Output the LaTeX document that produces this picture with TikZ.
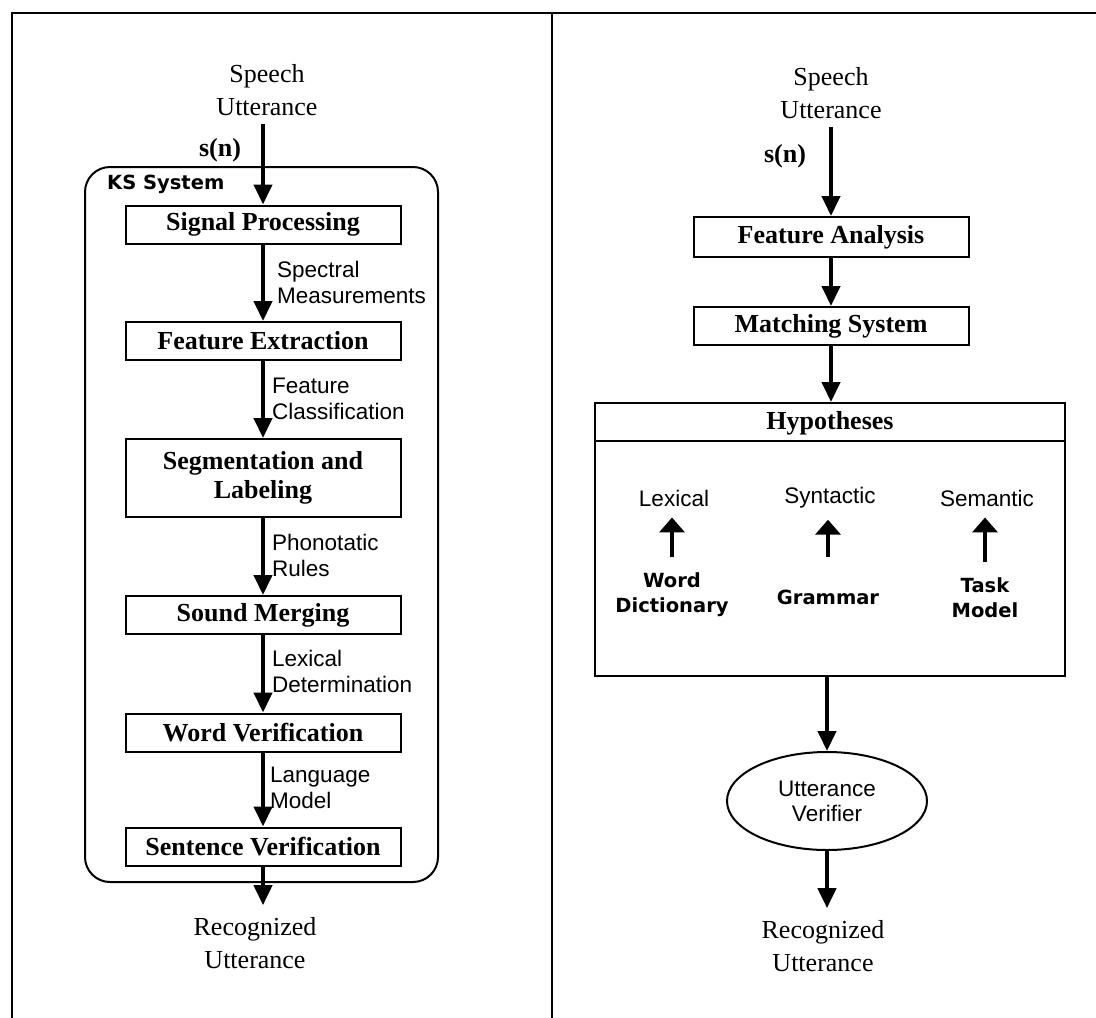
\documentclass[tikz,border=0pt]{standalone}
\usepackage{fontspec}
\setmainfont{Liberation Serif}
\newfontfamily\labsans{Liberation Sans}
\newfontfamily\kssans{DejaVu Sans}
\usetikzlibrary{arrows.meta,shapes.geometric}

\begin{document}
\begin{tikzpicture}[x=1pt,y=-1pt,
  rule/.style={line width=2.6pt},
  stage/.style={draw, line width=2pt, minimum width=275pt, minimum height=38pt,
    inner sep=0pt, align=center, font=\fontsize{26}{29}\selectfont\bfseries},
  io/.style={align=center, inner sep=0pt, font=\fontsize{26}{33}\selectfont},
  sig/.style={inner sep=0pt, font=\fontsize{26}{30}\selectfont\bfseries},
  lab/.style={align=left, inner sep=0pt, font=\labsans\fontsize{22.5}{26}\selectfont},
  level/.style={inner sep=0pt, font=\labsans\fontsize{22.5}{26}\selectfont},
  ks/.style={inner sep=0pt, align=center, font=\kssans\bfseries\fontsize{19.5}{25}\selectfont},
  flow/.style={line width=4.2pt, -{Triangle[width=18pt,length=20pt]}},
  rise/.style={line width=4.5pt, -{Triangle[width=25pt,length=15pt]}},
]
\useasboundingbox (0,0) rectangle (1096,1018);
\fill[white] (0,0) rectangle (1096,1018);

% outer frame and panel divider
\draw[rule] (12,1018) -- (12,13) -- (1096,13);
\draw[rule] (552,13) -- (552,1018);

% ---------- left panel: knowledge-source system ----------
\node[io] (inL) at (267,90) {Speech\\Utterance};
\node[sig] (snL) at (220,150) {s(n)};
\node[draw, line width=2pt, rounded corners=25pt, minimum width=353pt,
      minimum height=715pt, inner sep=0pt] (ks) at (261.5,524.5) {};
\node[ks, anchor=west] (ksl) at (107,184) {KS System};

\node[stage] (sp)  at (263,224.5) {Signal Processing};
\node[stage] (fe)  at (263,341)   {Feature Extraction};
\node[stage, minimum height=78pt] (seg) at (263,478) {Segmentation and\\Labeling};
\node[stage] (sm)  at (263,615)   {Sound Merging};
\node[stage] (wv)  at (263,732.5) {Word Verification};
\node[stage] (sv)  at (263,846.5) {Sentence Verification};
\node[io] (outL) at (255,943) {Recognized\\Utterance};

\draw[flow, shorten <=8pt] (sp.north |- inL.south) -- (sp.north);
\draw[flow] (sp) -- (fe);
\draw[flow] (fe) -- (seg);
\draw[flow] (seg) -- (sm);
\draw[flow] (sm) -- (wv);
\draw[flow] (wv) -- (sv);
\draw[flow, shorten >=12pt] (sv.south) -- (sv.south |- outL.north);

\node[lab, anchor=west] (l1) at (277,282) {Spectral\\Measurements};
\node[lab, anchor=west] (l2) at (272,399) {Feature\\Classification};
\node[lab, anchor=west] (l3) at (272,555) {Phonotatic\\Rules};
\node[lab, anchor=west] (l4) at (272,671) {Lexical\\Determination};
\node[lab, anchor=west] (l5) at (270,788) {Language\\Model};

% ---------- right panel: hypothesis-driven system ----------
\node[io] (inR) at (831,93) {Speech\\Utterance};
\node[sig] (snR) at (785,156) {s(n)};
\node[stage, minimum height=40pt] (fa) at (831,237) {Feature Analysis};
\node[stage] (ms) at (831,326) {Matching System};

\node[draw, line width=2pt, minimum width=470pt, minimum height=273pt,
      inner sep=0pt] (hyp) at (830,539.5) {};
\draw[line width=2pt] ([yshift=-39pt]hyp.north west) -- ([yshift=-39pt]hyp.north east);
\node[sig] (hypt) at (830,423) {Hypotheses};

\node[level] (lex) at (674,498) {Lexical};
\node[level] (syn) at (830,498) {Syntactic};
\node[level] (sem) at (987,498) {Semantic};
\node[ks] (wd) at (672,594.5) {Word\\Dictionary};
\node[ks] (gr) at (828,597)   {Grammar};
\node[ks] (tm) at (985,597.5) {Task\\Model};

\draw[rise, shorten <=15pt, shorten >=11pt] (wd.north) -- (wd.north |- lex.south);
\draw[rise, shorten <=32pt, shorten >=11pt] (gr.north) -- (gr.north |- syn.south);
\draw[rise, shorten <=15pt, shorten >=11pt] (tm.north) -- (tm.north |- sem.south);

\node[draw, ellipse, line width=2pt, minimum width=200pt, minimum height=98pt,
      inner sep=0pt, align=center, font=\labsans\fontsize{22.5}{25}\selectfont]
      (uv) at (827,801) {Utterance\\Verifier};
\node[io] (outR) at (823,946) {Recognized\\Utterance};

\draw[flow, shorten <=8pt] (fa.north |- inR.south) -- (fa.north);
\draw[flow] (fa) -- (ms);
\draw[flow] (ms.south) -- (ms.south |- hyp.north);
\draw[flow] (hyp.south -| uv.north) -- (uv.north);
\draw[flow, shorten >=12pt] (uv.south) -- (uv.south |- outR.north);
\end{tikzpicture}
\end{document}
